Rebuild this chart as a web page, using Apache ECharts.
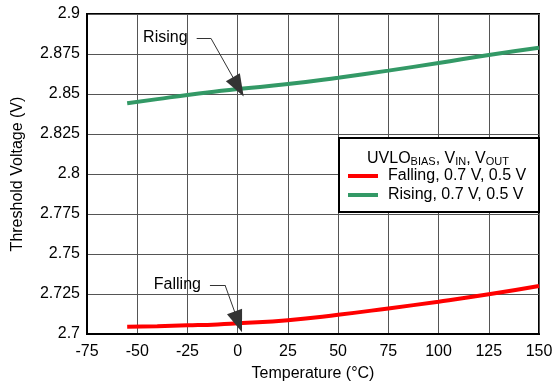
<!DOCTYPE html>
<html>
<head>
<meta charset="utf-8">
<script src="https://cdn.jsdelivr.net/npm/echarts@6/dist/echarts.min.js"></script>
<style>
html, body { margin: 0; padding: 0; background: #fff; }
#main { width: 553px; height: 383px; }
</style>
</head>
<body>
<div id="main"></div>
<script>
// temperature points (°C)
var temps = [-55, -40, -25, -10, 0, 25, 50, 75, 100, 125, 150];
// threshold voltages (V)
var fallingV = [2.7046, 2.7049, 2.7054, 2.7060, 2.7067, 2.7086, 2.7120, 2.7160, 2.7202, 2.7248, 2.7300];
var risingV = [2.8442, 2.8468, 2.8494, 2.8517, 2.8531, 2.8562, 2.8602, 2.8646, 2.8694, 2.8744, 2.8789];

// annotation anchors: [text pos, leader start, kink, arrow tip]
var risingNote = [[-36, 2.885], [-20.4, 2.8848], [-13.3, 2.8848], [0.3, 2.8545]];
var fallingNote = [[-30, 2.7306], [-13.8, 2.7306], [-6.3, 2.7306], [0.3, 2.7076]];

var font = 'Liberation Sans, Arial, sans-serif';

function pairs(xs, ys) {
    var out = [];
    for (var i = 0; i < xs.length; i++) out.push([xs[i], ys[i]]);
    return out;
}

function note(n, text) {
    return {
        markPoint: {
            silent: true,
            symbol: 'circle',
            symbolSize: 0,
            label: {
                show: true, position: 'inside', formatter: text,
                color: '#000', fontSize: 16, fontFamily: font
            },
            data: [{ coord: n[0] }]
        },
        markLine: {
            silent: true,
            animation: false,
            symbol: ['none', 'triangle'],
            symbolSize: [16, 22],
            label: { show: false },
            lineStyle: { color: '#333', width: 1, type: 'solid' },
            emphasis: { disabled: true },
            data: [
                [{ coord: n[1] }, { coord: n[2], symbol: 'none' }],
                [{ coord: n[2] }, { coord: n[3], itemStyle: { color: '#000' } }]
            ]
        }
    };
}

var chart = echarts.init(document.getElementById('main'));

var fallingSeries = {
    name: 'Falling, 0.7 V, 0.5 V',
    type: 'line',
    smooth: true,
    showSymbol: false,
    color: '#ff0000',
    lineStyle: { width: 4, color: '#ff0000' },
    data: pairs(temps, fallingV)
};
Object.assign(fallingSeries, note(fallingNote, 'Falling'));

var risingSeries = {
    name: 'Rising, 0.7 V, 0.5 V',
    type: 'line',
    smooth: true,
    showSymbol: false,
    color: '#339966',
    lineStyle: { width: 4, color: '#339966' },
    data: pairs(temps, risingV)
};
Object.assign(risingSeries, note(risingNote, 'Rising'));

var option = {
    animation: false,
    backgroundColor: '#fff',
    textStyle: { fontFamily: font },
    grid: {
        left: 87, right: 14, top: 14, bottom: 49,
        outerBoundsMode: 'none',
        containLabel: false,
        show: true, borderColor: '#000', borderWidth: 2
    },
    title: {
        left: 362, top: 145,
        text: 'UVLO{s|BIAS}, V{s|IN}, V{s|OUT}',
        z: 6,
        textStyle: {
            fontFamily: font, fontSize: 16, fontWeight: 'normal', color: '#000',
            rich: {
                s: { fontSize: 11, fontFamily: font, color: '#000', verticalAlign: 'bottom', padding: [6, 0, 0, 0] }
            }
        }
    },
    legend: {
        orient: 'vertical',
        left: 343, top: 163,
        icon: 'rect',
        itemWidth: 30, itemHeight: 4,
        itemGap: 3,
        z: 6,
        textStyle: { fontFamily: font, fontSize: 16, color: '#000', lineHeight: 16, padding: [0, 0, 0, 5] },
        data: ['Falling, 0.7 V, 0.5 V', 'Rising, 0.7 V, 0.5 V']
    },
    graphic: [{
        type: 'rect',
        z: 3,
        shape: { x: 339, y: 138, width: 200, height: 74 },
        style: { fill: '#fff', stroke: '#000', lineWidth: 2 }
    }],
    xAxis: {
        type: 'value',
        min: -75, max: 150, interval: 25,
        name: 'Temperature (°C)',
        nameLocation: 'middle',
        nameGap: 32,
        nameTextStyle: { fontFamily: font, fontSize: 16, color: '#000' },
        axisLine: { onZero: false, lineStyle: { color: '#000', width: 2 } },
        axisTick: { show: false },
        axisLabel: { fontFamily: font, fontSize: 16, color: '#000', margin: 10 },
        splitLine: { lineStyle: { color: '#555', width: 1 } }
    },
    yAxis: {
        type: 'value',
        min: 2.7, max: 2.9, interval: 0.025,
        name: 'Threshold Voltage (V)',
        nameLocation: 'middle',
        nameGap: 61,
        nameTextStyle: { fontFamily: font, fontSize: 16, color: '#000' },
        axisLine: { show: true, onZero: false, lineStyle: { color: '#000', width: 2 } },
        axisTick: { show: false },
        axisLabel: { fontFamily: font, fontSize: 16, color: '#000', margin: 7 },
        splitLine: { lineStyle: { color: '#555', width: 1 } }
    },
    series: [fallingSeries, risingSeries]
};

chart.setOption(option);
</script>
</body>
</html>
